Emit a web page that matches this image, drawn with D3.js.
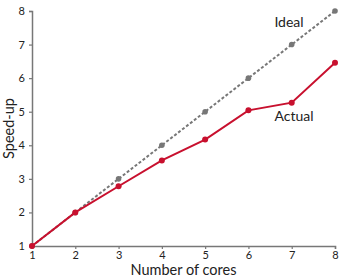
<!DOCTYPE html>
<html>
<head>
<meta charset="utf-8">
<script src="https://cdn.jsdelivr.net/npm/d3@7"></script>
<style>
  body { margin: 0; background: #fff; }
  text { font-family: Lato, 'Open Sans', sans-serif; }
</style>
</head>
<body>
<svg id="chart" width="346" height="277"></svg>
<script>
const cores = [1, 2, 3, 4, 5, 6, 7, 8]
const ideal = [1, 2, 3, 4, 5, 6, 7, 8]
const actual = [1, 2, 2.78, 3.55, 4.17, 5.04, 5.27, 6.46]
const yTicks = [1, 2, 3, 4, 5, 6, 7, 8]

const svg = d3.select('#chart')
const width = 346
const height = 277
const margin = { top: 11, right: 11, bottom: 31, left: 32 }

const xScale = d3.scaleLinear()
  .domain([1, 8])
  .range([margin.left, width - margin.right])

const yScale = d3.scaleLinear()
  .domain([1, 8])
  .range([height - margin.bottom, margin.top])

const axisColor = '#777'

function styleAxis (g) {
  g.select('.domain').style('stroke', axisColor).style('stroke-width', 1.5)
  g.selectAll('.tick line').style('stroke', axisColor).style('stroke-width', 1.2)
  g.selectAll('.tick text')
    .style('fill', '#222')
    .style('font-size', '11px')
}

svg.append('g')
  .attr('transform', `translate(0, ${yScale(1)})`)
  .call(d3.axisBottom(xScale).tickValues(cores).tickFormat(d3.format('d'))
    .tickSizeOuter(0).tickSize(3).tickPadding(2))
  .call(styleAxis)

svg.append('g')
  .attr('transform', `translate(${xScale(1)}, 0)`)
  .call(d3.axisLeft(yScale).tickValues(yTicks).tickFormat(d3.format('d'))
    .tickSizeOuter(0).tickSize(3).tickPadding(4))
  .call(styleAxis)

const line = d3.line()
  .x((d, i) => xScale(cores[i]))
  .y(d => yScale(d))

svg.append('path')
  .datum(ideal)
  .attr('d', line)
  .attr('fill', 'none')
  .attr('stroke', '#777')
  .attr('stroke-width', 2)
  .attr('stroke-dasharray', '3,2')

svg.selectAll('.idealDot')
  .data(ideal)
  .join('circle')
  .attr('cx', (d, i) => xScale(cores[i]))
  .attr('cy', d => yScale(d))
  .attr('r', 2.8)
  .attr('fill', '#777')

svg.append('path')
  .datum(actual)
  .attr('d', line)
  .attr('fill', 'none')
  .attr('stroke', '#c8102e')
  .attr('stroke-width', 2)

svg.selectAll('.actualDot')
  .data(actual)
  .join('circle')
  .attr('cx', (d, i) => xScale(cores[i]))
  .attr('cy', d => yScale(d))
  .attr('r', 3)
  .attr('fill', '#c8102e')

svg.append('text')
  .attr('x', 289)
  .attr('y', 27)
  .attr('text-anchor', 'middle')
  .style('font-size', '14px')
  .style('fill', '#222')
  .text('Ideal')

svg.append('text')
  .attr('x', 294)
  .attr('y', 121)
  .attr('text-anchor', 'middle')
  .style('font-size', '14px')
  .style('fill', '#222')
  .text('Actual')

svg.append('text')
  .attr('x', (xScale(1) + xScale(8)) / 2)
  .attr('y', 275)
  .attr('text-anchor', 'middle')
  .style('font-size', '14.5px')
  .style('fill', '#222')
  .text('Number of cores')

svg.append('text')
  .attr('transform', `translate(14, ${(yScale(1) + yScale(8)) / 2}) rotate(-90)`)
  .attr('text-anchor', 'middle')
  .style('font-size', '14.5px')
  .style('fill', '#222')
  .text('Speed-up')
</script>
</body>
</html>
